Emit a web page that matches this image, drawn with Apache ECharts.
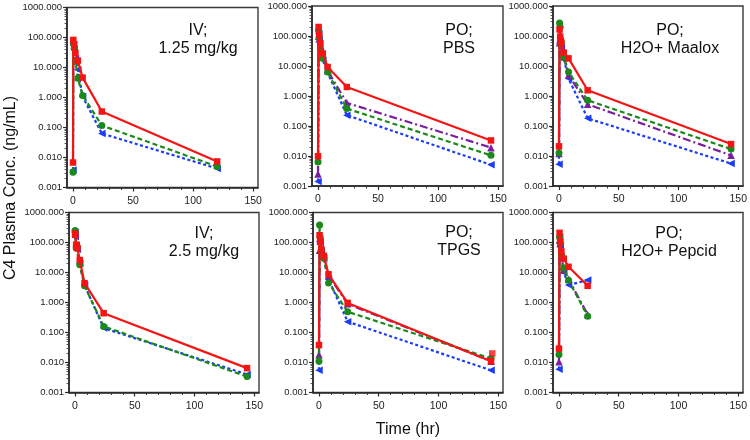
<!DOCTYPE html>
<html>
<head>
<meta charset="utf-8">
<script src="https://cdn.jsdelivr.net/npm/echarts@6/dist/echarts.min.js"></script>
<style>html,body{margin:0;padding:0;background:#fff}#c{width:750px;height:440px}</style>
</head>
<body>
<div id="c"></div>
<script>
// ---------------- data ----------------
const panelTitles = ['IV;\n1.25 mg/kg', 'PO;\nPBS', 'PO;\nH2O+ Maalox', 'IV;\n2.5 mg/kg', 'PO;\nTPGS', 'PO;\nH2O+ Pepcid'];
const yAxisTitle = 'C4 Plasma Conc. (ng/mL)';
const xAxisTitle = 'Time (hr)';
const xTickLabels = [0, 50, 100, 150];
const xMinorTicks = [10, 20, 30, 40, 60, 70, 80, 90, 110, 120, 130, 140];

// IV 1.25 mg/kg
const tIV125 = [0, 0.25, 1, 2, 4, 8, 24, 120];
const iv125Red = [0.0068, 83, 60, 31, 17, 4.6, 0.34, 0.0074];
const iv125Green = [0.0032, 65, 44, 16, 4.4, 1.17, 0.117, 0.005];
const iv125Blue = [0.0038, 55, 40, 20, 8.4, 1.07, 0.063, 0.0043];

// PO PBS
const tPBS = [0, 0.5, 1, 2, 4, 8, 24, 144];
const pbsRed = [0.0098, 200, 110, 57, 26, 9.3, 2.0, 0.033];
const pbsGreen = [0.0063, 155, 90, 40, 18, 6.3, 0.38, 0.0105];
const pbsBlue = [0.0014, 120, 75, 30, 15.5, 6, 0.23, 0.0051];
const pbsPurple = [0.0025, 100, 80, 45, 20, 7, 0.59, 0.019];

// PO H2O + Maalox
const tMaalox = [0, 0.5, 1, 2, 4, 8, 24, 144];
const maaloxRed = [0.021, 165, 95, 60, 28, 18, 1.55, 0.025];
const maaloxGreen = [0.0126, 270, 200, 60, 20, 6.3, 0.72, 0.017];
const maaloxBlue = [0.0053, 55, 70, 40, 18, 3.8, 0.18, 0.0056];
const maaloxPurple = [0.012, 60, 80, 50, 20, 5, 0.53, 0.0105];

// IV 2.5 mg/kg
const tIV25 = [0.083, 0.25, 1, 2, 4, 8, 24, 144];
const iv25Red = [200, 180, 85, 65, 26, 4.4, 0.44, 0.0065];
const iv25Green = [250, 230, 65, 70, 18, 3.6, 0.16, 0.0034];
const iv25Blue = [220, 160, 80, 60, 20, 3.8, 0.14, 0.004];

// PO TPGS
const tTPGS = [0, 0.5, 1, 2, 4, 8, 24, 144];
const tpgsRed = [0.038, 175, 105, 60, 36, 8.7, 0.97, 0.011];
const tpgsGreen = [0.011, 380, 150, 60, 30, 4.5, 0.49, 0.0135];
const tpgsBlue = [0.0055, 110, 100, 50, 30, 6, 0.23, 0.0055];
const tpgsPurple = [0.018, 55, 110, 60, 35, 8, 0.9, 0.011];
const tpgsRedExtraT = [145];
const tpgsRedExtraV = [0.02];

// PO H2O + Pepcid
const tPepcid = [0, 0.5, 1, 2, 4, 8, 24];
const pepcidRed = [0.029, 210, 110, 50, 29, 15.5, 3.6];
const pepcidGreen = [0.0185, 150, 100, 40, 14, 5.5, 0.35];
const pepcidBlue = [0.0059, 150, 80, 30, 10, 3.8, 5.6];
const pepcidPurple = [0.0105, 120, 90, 35, 12, 6, 0.4];

// ---------------- styling ----------------
const FONT = '"Liberation Sans", Arial, sans-serif';
const styles = {
  blue:   {color: '#1a3cf5', type: [3, 2.5], symbol: 'triangle', size: 7.5, rotate: 90, z: 2},
  purple: {color: '#7a1e9e', type: [8, 3, 2, 3], symbol: 'triangle', size: 7.5, rotate: 0, z: 3},
  green:  {color: '#1a8a1a', type: [5, 3], symbol: 'circle', size: 7, rotate: 0, z: 4},
  red:    {color: '#f51414', type: 'solid', symbol: 'rect', size: 6.5, rotate: 0, z: 5}
};

const panels = [
  {t: tIV125, s: {blue: iv125Blue, green: iv125Green, red: iv125Red}},
  {t: tPBS, s: {blue: pbsBlue, purple: pbsPurple, green: pbsGreen, red: pbsRed}},
  {t: tMaalox, s: {blue: maaloxBlue, purple: maaloxPurple, green: maaloxGreen, red: maaloxRed}},
  {t: tIV25, s: {blue: iv25Blue, green: iv25Green, red: iv25Red}},
  {t: tTPGS, s: {blue: tpgsBlue, purple: tpgsPurple, green: tpgsGreen, red: tpgsRed}},
  {t: tPepcid, s: {blue: pepcidBlue, purple: pepcidPurple, green: pepcidGreen, red: pepcidRed}}
];

const gridBoxes = [
  {left: 67, top: 7.5, width: 191, height: 180},
  {left: 312, top: 6, width: 191, height: 180},
  {left: 553, top: 6, width: 192, height: 180},
  {left: 69, top: 212.5, width: 190, height: 180},
  {left: 313, top: 212.5, width: 190, height: 180},
  {left: 553, top: 212.5, width: 192, height: 180}
];
const titlePos = [
  [198, 39.5], [459, 39.5], [670, 39.5],
  [204, 242.5], [459, 241.5], [669, 242.5]
];

// y minor ticks (in log10 exponent space)
const yMinorExp = [];
for (let d = -3; d < 3; d++) {
  for (let m = 2; m <= 9; m++) yMinorExp.push(d + Math.log10(m));
}

const grid = [], xAxis = [], yAxis = [], series = [], graphic = [];
gridBoxes.forEach((g, i) => {
  grid.push(Object.assign({show: true, borderColor: '#3a3a3a', borderWidth: 1.4, backgroundColor: 'transparent'}, g));
  xAxis.push({
    type: 'value', gridIndex: i, min: -5, max: 154, position: 'bottom',
    axisLine: {show: true, onZero: false, lineStyle: {color: '#2a2a2a', width: 1.6}},
    axisTick: {show: true, customValues: xTickLabels, length: 4, lineStyle: {color: '#2a2a2a', width: 1.2}},
    axisLabel: {customValues: xTickLabels, fontSize: 10.5, color: '#222', fontFamily: FONT, margin: 8},
    splitLine: {show: false}
  });
  xAxis.push({
    type: 'value', gridIndex: i, min: -5, max: 154, position: 'bottom',
    axisLine: {show: false, onZero: false},
    axisTick: {show: true, customValues: xMinorTicks, length: 2.5, lineStyle: {color: '#333', width: 1}},
    axisLabel: {show: false},
    splitLine: {show: false}
  });
  yAxis.push({
    type: 'log', logBase: 10, gridIndex: i, min: 0.001, max: 1000, position: 'left',
    axisLine: {show: true, onZero: false, lineStyle: {color: '#2a2a2a', width: 1.6}},
    axisTick: {show: true, length: 4, lineStyle: {color: '#2a2a2a', width: 1.2}},
    axisLabel: {fontSize: 9.5, color: '#222', fontFamily: FONT, margin: 5,
      formatter: v => Number(v).toFixed(3)},
    splitLine: {show: false}, minorTick: {show: false}
  });
  yAxis.push({
    type: 'value', gridIndex: i, min: -3, max: 3, position: 'left',
    axisLine: {show: false, onZero: false},
    axisTick: {show: true, customValues: yMinorExp, length: 2.5, lineStyle: {color: '#333', width: 0.8}},
    axisLabel: {show: false},
    splitLine: {show: false}
  });

  const p = panels[i];
  Object.keys(p.s).forEach(key => {
    const st = styles[key];
    series.push({
      type: 'line', name: key, xAxisIndex: 2 * i, yAxisIndex: 2 * i,
      data: p.t.map((tt, k) => [tt, p.s[key][k]]),
      symbol: st.symbol, symbolSize: st.size, symbolRotate: st.rotate,
      showSymbol: true, z: st.z,
      lineStyle: {color: st.color, width: 2.2, type: st.type},
      itemStyle: {color: st.color, borderWidth: 0},
      emphasis: {disabled: true}
    });
  });

  graphic.push({
    type: 'text', x: titlePos[i][0], y: titlePos[i][1],
    style: {text: panelTitles[i], fontSize: 16, fontFamily: FONT, fill: '#111',
      align: 'center', verticalAlign: 'middle', lineHeight: 18}
  });
});

series.push({
  type: 'scatter', name: 'redExtra', xAxisIndex: 8, yAxisIndex: 8,
  data: tpgsRedExtraT.map((tt, k) => [tt, tpgsRedExtraV[k]]),
  symbol: 'rect', symbolSize: 6.5, itemStyle: {color: styles.red.color}, z: 5
});

graphic.push({
  type: 'text', x: 11, y: 188, rotation: Math.PI / 2,
  style: {text: yAxisTitle, fontSize: 16, fontFamily: FONT, fill: '#111', align: 'center', verticalAlign: 'middle'}
});
graphic.push({
  type: 'text', x: 408, y: 430,
  style: {text: xAxisTitle, fontSize: 16, fontFamily: FONT, fill: '#111', align: 'center', verticalAlign: 'middle'}
});

const chart = echarts.init(document.getElementById('c'), null, {renderer: 'canvas'});
chart.setOption({animation: false, grid, xAxis, yAxis, series, graphic});
</script>
</body>
</html>
